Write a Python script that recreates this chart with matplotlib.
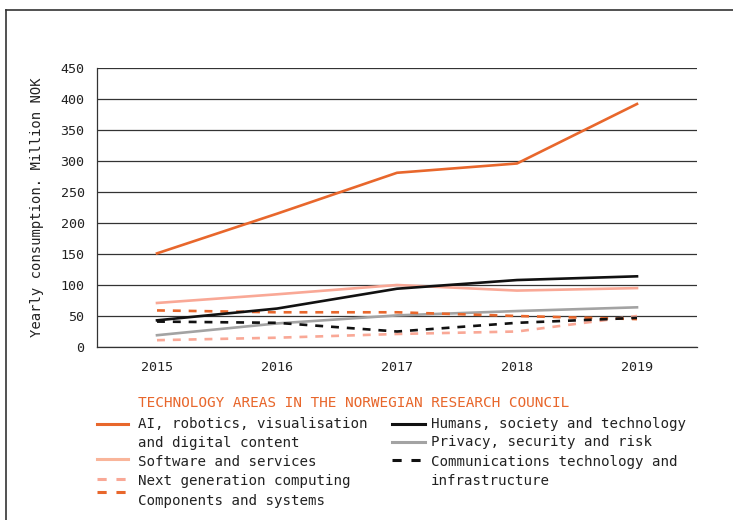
import matplotlib
matplotlib.use("Agg")
import matplotlib.pyplot as plt
from matplotlib.lines import Line2D

years = [2015, 2016, 2017, 2018, 2019]
ai = [151, 215, 281, 296, 392]
humans = [43, 62, 94, 108, 114]
software = [71, 85, 100, 91, 95]
privacy = [19, 38, 51, 58, 64]
comm = [41, 39, 25, 39, 47]
nextgen = [11, 15, 21, 25, 50]
components = [59, 56, 56, 50, 45]

yticks = [0, 50, 100, 150, 200, 250, 300, 350, 400, 450]

ORANGE = "#E8672C"
SALMON = "#F9A896"
PEACH = "#F9B59A"
GREY = "#A3A3A3"
BLACK = "#111111"

plt.rcParams['font.family'] = ['DejaVu Sans Mono']

W, H = 733, 520
fig = plt.figure(figsize=(W / 100, H / 100), dpi=100)
ax = fig.add_axes([97 / W, (H - 347) / H, 600 / W, 279 / H])

lw = 1.9
ax.plot(years, ai, color=ORANGE, lw=lw, zorder=5)
ax.plot(years, humans, color=BLACK, lw=lw, zorder=5)
ax.plot(years, software, color=SALMON, lw=lw, zorder=4)
ax.plot(years, privacy, color=GREY, lw=lw, zorder=4)
ax.plot(years, comm, color=BLACK, lw=lw, ls=(0, (3, 3)), zorder=5)
ax.plot(years, nextgen, color=SALMON, lw=lw, ls=(0, (3, 3)), zorder=4)
ax.plot(years, components, color=ORANGE, lw=lw, ls=(0, (3, 3)), zorder=4)

ax.set_xlim(2014.5, 2019.5)
ax.set_ylim(0, 450)
ax.set_yticks(yticks)
ax.set_xticks(years)
ax.set_xticklabels([str(y) for y in years])
ax.tick_params(axis='both', length=0, labelsize=9.6, colors="#222222")
ax.tick_params(axis='x', pad=10)
ax.tick_params(axis='y', pad=9)
ax.yaxis.grid(True, color="#333333", lw=0.9)
ax.axhline(0, color="#333333", lw=0.9, clip_on=False, zorder=1)
ax.set_axisbelow(True)
for s in ['top', 'right', 'bottom']:
    ax.spines[s].set_visible(False)
ax.spines['left'].set_color("#333333")
ax.spines['left'].set_linewidth(0.9)
ax.set_ylabel("Yearly consumption. Million NOK", fontsize=10, color="#222222", labelpad=12)

# outer frame (partially visible)
fig.add_artist(Line2D([6 / W, 6 / W], [0, 1 - 10 / H], transform=fig.transFigure, color="#333333", lw=1.2))
fig.add_artist(Line2D([6 / W, 1], [1 - 10 / H, 1 - 10 / H], transform=fig.transFigure, color="#333333", lw=1.2))

def fx(x):
    return x / W

def fy(y):
    return 1 - y / H

fig.text(fx(138), fy(403), "TECHNOLOGY AREAS IN THE NORWEGIAN RESEARCH COUNCIL",
         color=ORANGE, fontsize=10.4, va='center', ha='left')

def handle(x0, x1, y, color, ls='-'):
    fig.add_artist(Line2D([fx(x0), fx(x1)], [fy(y), fy(y)], transform=fig.transFigure,
                          color=color, lw=2.2, ls=ls))

def label(x, y, s):
    fig.text(fx(x), fy(y), s, fontsize=10.2, va='center', ha='left', color="#222222")

dash = (0, (3, 3.2))
handle(97, 128, 424, ORANGE)
label(138, 424, "AI, robotics, visualisation")
label(138, 443, "and digital content")
handle(97, 128, 459, PEACH)
label(138, 462, "Software and services")
handle(97, 128, 479, SALMON, dash)
label(138, 481, "Next generation computing")
handle(97, 128, 492, ORANGE, dash)
label(138, 501, "Components and systems")

handle(392, 425, 424, BLACK)
label(431, 424, "Humans, society and technology")
handle(392, 425, 442, GREY)
label(431, 442, "Privacy, security and risk")
handle(392, 425, 460, BLACK, dash)
label(431, 462, "Communications technology and")
label(431, 481, "infrastructure")

fig.savefig("out.png", dpi=100)
